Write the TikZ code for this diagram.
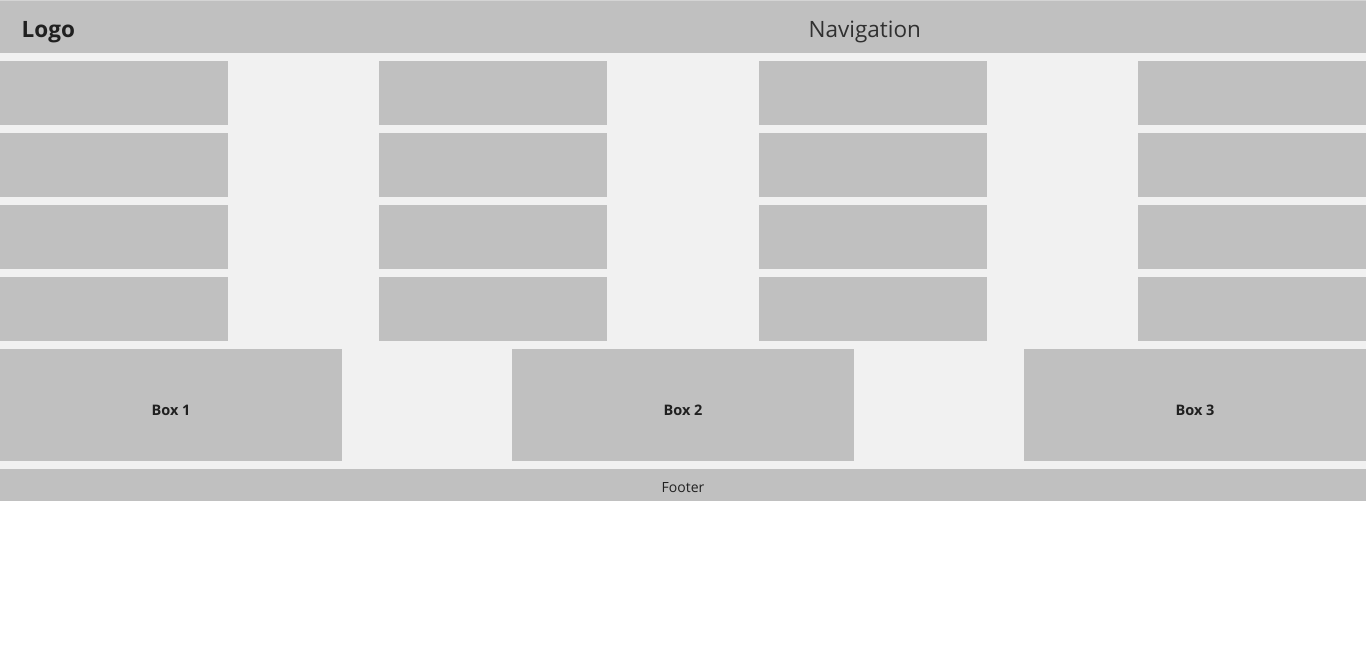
\documentclass[tikz,border=0pt]{standalone}
\usepackage{fontspec}
\setmainfont{Open Sans}
\definecolor{panel}{HTML}{C0C0C0}
\definecolor{pagebg}{HTML}{F1F1F1}
\definecolor{rule}{HTML}{D4D4D4}
\definecolor{ink}{HTML}{202020}
\definecolor{softink}{HTML}{303030}
\tikzset{
  block/.style={fill=panel, draw=none, inner sep=0pt, outer sep=0pt, anchor=north west},
  tile/.style={block, minimum width=228pt, minimum height=64pt},
  bigbox/.style={block, minimum width=342pt, minimum height=112pt},
  boxtext/.style={inner sep=0pt, anchor=base, font=\fontsize{14.5}{16}\selectfont\bfseries, text=ink},
  label/.style={inner sep=0pt, anchor=base west},
}
\begin{document}
\begin{tikzpicture}[x=1pt, y=-1pt]
  \useasboundingbox (0,0) rectangle (1366,657);
  \fill[white] (0,0) rectangle (1366,657);
  % page body
  \fill[pagebg] (0,53) rectangle (1366,501);
  % header band
  \fill[rule] (0,0) rectangle (1366,1);
  \node[block, minimum width=1366pt, minimum height=52pt] (header) at (0,1) {};
  \node[label, font=\fontsize{22.5}{24}\selectfont\bfseries, text=ink] (logo) at (21.5,37) {Logo};
  \node[label, font=\fontsize{22.5}{24}\selectfont, text=softink] (nav) at (808.5,37) {Navigation};
  % grid of tiles: four columns, four rows
  \foreach \c/\x in {1/0, 2/379.33, 3/758.67, 4/1138} {
    \foreach \r/\y in {1/61, 2/133, 3/205, 4/277} {
      \node[tile] (tile-\r-\c) at (\x,\y) {};
    }
  }
  % three content boxes with their captions
  \foreach \i/\x in {1/0, 2/512, 3/1024} {
    \node[bigbox] (box\i) at (\x,349) {};
    \node[boxtext] (box\i-text) at ([yshift=-10pt]box\i.center) {Box \i};
  }
  % footer band
  \node[block, minimum width=1366pt, minimum height=32pt] (footer) at (0,469) {};
  \node[inner sep=0pt, anchor=base, font=\fontsize{14}{16}\selectfont, text=ink]
    (footer-text) at ([yshift=-7pt]footer.center) {Footer};
\end{tikzpicture}
\end{document}
